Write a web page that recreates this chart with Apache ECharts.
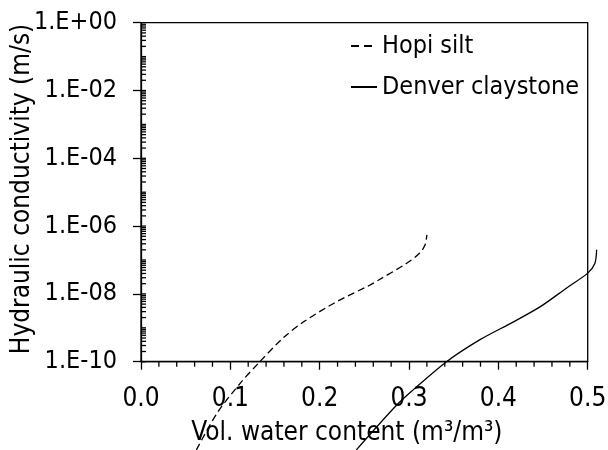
<!DOCTYPE html>
<html>
<head>
<meta charset="utf-8">
<script src="https://cdn.jsdelivr.net/npm/echarts@6/dist/echarts.min.js"></script>
<style>
html,body{margin:0;padding:0;background:#fff;}
#chart{width:608px;height:450px;}
#err{position:absolute;left:160px;top:120px;font:11px monospace;color:red;width:420px;}
</style>
</head>
<body>
<div id="chart"></div>
<div id="err"></div>
<script>
window.onerror = function (m) { document.getElementById('err').textContent += m + ' | '; };
// ---- data ----
const seriesNames = ['Hopi silt', 'Denver claystone'];
const hopiX = [0.062, 0.085, 0.111, 0.133, 0.159, 0.182, 0.219, 0.256, 0.2675, 0.297, 0.312, 0.318, 0.320];
const hopiK = [2.5e-13, 3.0e-12, 2.3e-11, 1.0e-10, 5.0e-10, 1.5e-9, 5.9e-9, 1.8e-8, 2.7e-8, 7.9e-8, 1.6e-7, 2.8e-7, 5.5e-7];
const denverX = [0.241, 0.286, 0.305, 0.342, 0.379, 0.417, 0.447, 0.4765, 0.500, 0.508, 0.510];
const denverK = [2.5e-13, 5.2e-12, 1.5e-11, 1.0e-10, 4.4e-10, 1.5e-9, 4.2e-9, 1.5e-8, 4.1e-8, 7.9e-8, 2.0e-7];
const yTickValues = [1e-10, 1e-8, 1e-6, 1e-4, 1e-2, 1];
const yTickLabels = ['1.E-10', '1.E-08', '1.E-06', '1.E-04', '1.E-02', '1.E+00'];
const xTickLabels = ['0.0', '0.1', '0.2', '0.3', '0.4', '0.5'];
const xTitle = 'Vol. water content (m\u00b3/m\u00b3)';
const yTitle = 'Hydraulic conductivity (m/s)';

// minor tick positions
const yMinorTicks = [];
for (let d = -10; d < 0; d++) {
  for (let m = 1; m <= 9; m++) yMinorTicks.push(m * Math.pow(10, d));
}
const xMinorTicks = [];
for (let i = 1; i < 25; i++) if (i % 5 !== 0) xMinorTicks.push(i / 50);

const FONT = '"DejaVu Sans Condensed", "DejaVu Sans", sans-serif';
const chart = echarts.init(document.getElementById('chart'), null, {renderer: 'canvas'});

function yLabel(v) {
  const lv = Math.log10(v);
  const i = yTickValues.findIndex(t => Math.abs(Math.log10(t) - lv) < 1e-6);
  return i >= 0 ? yTickLabels[i] : '';
}
function xLabel(v) {
  const i = Math.round(v * 10);
  return xTickLabels[i] !== undefined ? xTickLabels[i] : '';
}
function curveSeries(xs, ks, dash) {
  return {
    type: 'custom', silent: true, clip: false,
    data: xs.map((x, i) => [x, ks[i]]),
    renderItem: function (params, api) {
      if (params.dataIndex !== 0) return null;
      const pts = xs.map((x, i) => api.coord([x, ks[i]]));
      return {type: 'polyline', shape: {points: pts, smooth: 0.3},
              style: {stroke: '#000', lineWidth: 1.3, fill: null, lineDash: dash}};
    }
  };
}

try {
chart.setOption({
  animation: false,
  backgroundColor: '#fff',
  textStyle: {fontFamily: FONT},
  grid: {left: 141, right: 20.3, top: 22.7, bottom: 88.3, outerBoundsMode: 'none', containLabel: false,
         show: true, borderColor: '#000', borderWidth: 1.3, backgroundColor: 'rgba(0,0,0,0)'},
  graphic: [{
    type: 'text', x: 22, y: 189, rotation: Math.PI / 2, silent: true,
    style: {text: yTitle, fontFamily: FONT, fontSize: 26, fill: '#000', align: 'center', verticalAlign: 'middle'}
  }],
  legend: {
    orient: 'vertical', left: 350, top: 31, padding: 0, itemWidth: 26, itemHeight: 14, itemGap: 11,
    itemStyle: {opacity: 0},
    textStyle: {fontFamily: FONT, fontSize: 25, color: '#000', lineHeight: 30},
    data: seriesNames
  },
  xAxis: {
    type: 'value', min: 0, max: 0.5, interval: 0.1,
    name: xTitle, nameLocation: 'middle', nameGap: 59,
    nameTextStyle: {fontFamily: FONT, fontSize: 26, color: '#000', padding: [0, 35, 0, 0]},
    axisLine: {show: true, lineStyle: {color: '#000', width: 1.3}},
    axisTick: {show: true, inside: false, length: 8, lineStyle: {color: '#000', width: 1.3}},
    minorTick: {show: false},
    splitLine: {show: false},
    axisLabel: {fontFamily: FONT, fontSize: 26, color: '#000', margin: 25, formatter: xLabel}
  },
  yAxis: {
    type: 'log', logBase: 10, min: 1e-10, max: 1, interval: 2, splitNumber: 5,
    axisLine: {show: true, lineStyle: {color: '#000', width: 1.3}},
    axisTick: {show: true, inside: false, length: 8, lineStyle: {color: '#000', width: 1.3}},
    minorTick: {show: false},
    splitLine: {show: false},
    axisLabel: {fontFamily: FONT, fontSize: 25, color: '#000', margin: 24, padding: [0, 0, 3, 0], formatter: yLabel}
  },
  series: [
    {
      name: seriesNames[0], type: 'line', symbol: 'none', data: [],
      lineStyle: {color: '#000', width: 1.3, type: [8, 5]}, itemStyle: {color: '#000'}
    },
    {
      name: seriesNames[1], type: 'line', symbol: 'none', data: [],
      lineStyle: {color: '#000', width: 1.3, type: 'solid'}, itemStyle: {color: '#000'}
    },
    curveSeries(hopiX, hopiK, [7, 4]),
    curveSeries(denverX, denverK, null),
    {
      type: 'custom', silent: true, clip: false,
      data: yMinorTicks.map(v => [0, v]),
      renderItem: function (params, api) {
        const p = api.coord([api.value(0), api.value(1)]);
        return {type: 'line', shape: {x1: p[0], y1: p[1], x2: p[0] + 5, y2: p[1]},
                style: {stroke: '#000', lineWidth: 1.3}};
      }
    },
    {
      type: 'custom', silent: true, clip: false,
      data: xMinorTicks.map(v => [v, 1e-10]),
      renderItem: function (params, api) {
        const p = api.coord([api.value(0), api.value(1)]);
        return {type: 'line', shape: {x1: p[0], y1: p[1], x2: p[0], y2: p[1] + 5},
                style: {stroke: '#000', lineWidth: 1.3}};
      }
    }
  ]
});
} catch (e) { document.getElementById('err').textContent += 'EXC ' + e.message; }
</script>
</body>
</html>
